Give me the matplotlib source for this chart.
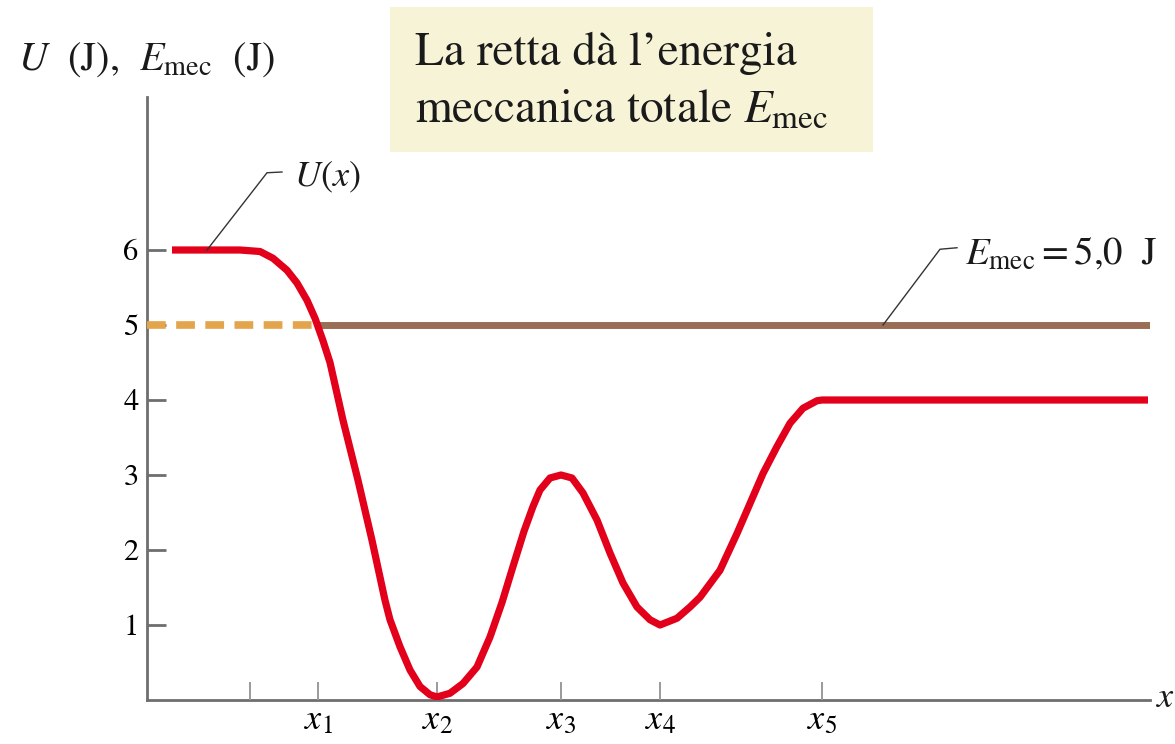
import matplotlib
matplotlib.use("Agg")
import matplotlib.pyplot as plt
from matplotlib.patches import Rectangle

plt.rcParams['font.family'] = ['STIXGeneral', 'DejaVu Serif']
plt.rcParams['mathtext.fontset'] = 'stix'
plt.rcParams['lines.scale_dashes'] = False

# ---- data (x in arbitrary position units along the axis, U in J) ----
x_pos = [25, 93, 113, 126, 140, 150, 160, 168, 176, 183, 196, 211, 225, 238,
         243, 253, 263, 273, 283, 290, 303, 316, 330, 343, 355, 366, 377, 386, 393, 403,
         414, 425, 436, 450, 463, 476, 490, 503, 513, 530, 543, 553, 573, 590, 603, 616,
         630, 643, 656, 670, 675, 1001]
U_vals = [6.0, 6.0, 5.98, 5.89, 5.73, 5.56, 5.33, 5.09, 4.79, 4.50, 3.73, 2.93, 2.13, 1.33,
          1.07, 0.71, 0.40, 0.18, 0.07, 0.04, 0.09, 0.22, 0.44, 0.84, 1.3, 1.78,
          2.25, 2.58, 2.8, 2.96, 3.0, 2.96, 2.76, 2.4, 1.96, 1.56, 1.24, 1.07, 1.0, 1.09,
          1.24, 1.37, 1.73, 2.22, 2.62, 3.02, 3.38, 3.69, 3.89, 3.99, 4.0, 4.0]
E_MEC = 5.0
x1_pos = 171
x_tick_pos = [103, 171, 290, 414, 513, 675]
x_tick_labels = ['', r'$x_1$', r'$x_2$', r'$x_3$', r'$x_4$', r'$x_5$']
y_ticks = [1, 2, 3, 4, 5, 6]
y_tick_labels = ['1', '2', '3', '4', '5', '6']
X_MAX = 1003
Y_MAX = 8.04

RED = '#E2001A'
BROWN = '#9A6E55'
ORANGE = '#E3A44B'
GRAY = '#6E6E6E'

fig = plt.figure(figsize=(11.75, 7.44), dpi=100)
fig.patch.set_facecolor('white')
ax = fig.add_axes([147/1175, 44/744, (1150-147)/1175, (700-97)/744])
ax.set_xlim(0, X_MAX)
ax.set_ylim(0, Y_MAX)
ax.set_facecolor('none')

for s in ['top', 'right']:
    ax.spines[s].set_visible(False)
for s in ['left', 'bottom']:
    ax.spines[s].set_color(GRAY)
    ax.spines[s].set_linewidth(2.0)
    ax.spines[s].set_zorder(1)

# energy line: dashed up to x1, solid brown after
ax.plot([0, x1_pos], [E_MEC, E_MEC], color=ORANGE, lw=5.5, dashes=(13.5, 7.5),
        solid_capstyle='butt', zorder=2)
ax.plot([x1_pos, X_MAX], [E_MEC, E_MEC], color=BROWN, lw=5, solid_capstyle='butt', zorder=2)

# potential energy curve
ax.plot(x_pos, U_vals, color=RED, lw=5.2, solid_capstyle='butt', solid_joinstyle='round',
        zorder=3)

# ticks
ax.set_xticks(x_tick_pos)
ax.set_xticklabels(x_tick_labels, fontsize=26)
ax.set_yticks(y_ticks)
ax.set_yticklabels(y_tick_labels, fontsize=22)
ax.tick_params(axis='x', direction='in', length=13, width=1.4, color='#9A9A9A', pad=3)
ax.tick_params(axis='y', direction='in', length=14, width=2.0, color=GRAY, pad=6)
ax.xaxis.get_major_ticks()[0].tick1line.set_color('#C8C8C8')

# axis labels
fig.text(18/1175, 1 - 60/744, r'$U$  (J),  $E_{\mathrm{mec}}$  (J)', fontsize=29,
         ha='left', va='center', color='#1a1a1a')
fig.text(1156/1175, 1 - 698/744, r'$x$', fontsize=26, ha='left', va='center', color='#1a1a1a')

# leader U(x)
ax.plot([60, 120, 135], [6.0, 7.03, 7.04], color='#333333', lw=1.0, zorder=4)
ax.text(147, 6.97, r'$U(x)$', fontsize=26, ha='left', va='center', color='#1a1a1a')

# leader E_mec
ax.plot([736, 793, 810], [5.0, 6.01, 6.03], color='#333333', lw=1.0, zorder=4)
ax.text(818, 5.96, r'$E_{\mathrm{mec}} = 5{,}0$  J', fontsize=28, ha='left', va='center',
        color='#1a1a1a')

# callout box
fig.patches.append(Rectangle((390/1175, 1 - 152/744), 483/1175, 145/744,
                             transform=fig.transFigure, facecolor='#F7F3D7',
                             edgecolor='none', zorder=0))
fig.text(415/1175, 1 - 65/744, 'La retta dà l’energia', fontsize=34, ha='left',
         va='baseline', color='#1a1a1a')
fig.text(415/1175, 1 - 123/744, r'meccanica totale $E_{\mathrm{mec}}$', fontsize=34,
         ha='left', va='baseline', color='#1a1a1a')

fig.savefig('out.png', dpi=100)
